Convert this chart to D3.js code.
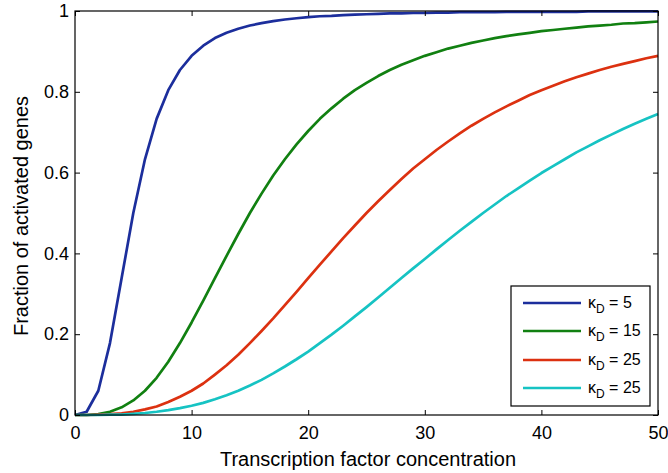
<!DOCTYPE html>
<html>
<head>
<meta charset="utf-8">
<script src="https://cdn.jsdelivr.net/npm/d3@7"></script>
<style>
  html, body { margin: 0; padding: 0; background: #fff; }
  svg { display: block; font-family: "Liberation Sans", Arial, sans-serif; }
</style>
</head>
<body>
<svg id="chart" width="668" height="473"></svg>
<script>
// Transcription factor concentration, sampled at integer steps
const concentration = d3.range(0, 51);

// Fraction of activated genes for each dissociation constant
const kd5 = [0, 0.008, 0.060, 0.178, 0.339, 0.500, 0.633, 0.733, 0.804, 0.854,
  0.889, 0.914, 0.933, 0.946, 0.956, 0.964, 0.970, 0.975, 0.979, 0.982,
  0.985, 0.987, 0.988, 0.990, 0.991, 0.992, 0.993, 0.994, 0.994, 0.995,
  0.995, 0.996, 0.996, 0.997, 0.997, 0.997, 0.997, 0.998, 0.998, 0.998,
  0.998, 0.998, 0.998, 0.998, 0.999, 0.999, 0.999, 0.999, 0.999, 0.999, 0.999];
const kd15 = [0, 0.000, 0.002, 0.008, 0.019, 0.036, 0.060, 0.092, 0.132, 0.178,
  0.229, 0.283, 0.339, 0.394, 0.448, 0.500, 0.548, 0.593, 0.633, 0.670,
  0.703, 0.733, 0.759, 0.783, 0.804, 0.822, 0.839, 0.854, 0.867, 0.878,
  0.889, 0.898, 0.907, 0.914, 0.921, 0.927, 0.933, 0.938, 0.942, 0.946,
  0.950, 0.953, 0.956, 0.959, 0.962, 0.964, 0.966, 0.969, 0.970, 0.972, 0.974];
const kd25 = [0, 0.000, 0.001, 0.002, 0.004, 0.008, 0.014, 0.021, 0.032, 0.045,
  0.060, 0.078, 0.100, 0.123, 0.149, 0.178, 0.208, 0.239, 0.272, 0.305,
  0.339, 0.372, 0.405, 0.438, 0.469, 0.500, 0.529, 0.557, 0.584, 0.610,
  0.633, 0.656, 0.677, 0.697, 0.716, 0.733, 0.749, 0.764, 0.778, 0.792,
  0.804, 0.815, 0.826, 0.836, 0.845, 0.854, 0.862, 0.869, 0.876, 0.883, 0.889];
const kd35 = [0, 0.000, 0.000, 0.001, 0.001, 0.003, 0.005, 0.008, 0.012, 0.017,
  0.023, 0.030, 0.039, 0.049, 0.060, 0.073, 0.087, 0.103, 0.120, 0.138,
  0.157, 0.178, 0.199, 0.221, 0.244, 0.267, 0.291, 0.315, 0.339, 0.363,
  0.386, 0.410, 0.433, 0.456, 0.478, 0.500, 0.521, 0.542, 0.561, 0.580,
  0.599, 0.616, 0.633, 0.650, 0.665, 0.680, 0.694, 0.708, 0.721, 0.733, 0.745];

const seriesValues = [kd5, kd15, kd25, kd35];
const legendLabels = ["5", "15", "25", "25"];
const seriesColors = ["#1c2e9c", "#118011", "#dc3110", "#16c3c3"];

const xTicks = [0, 10, 20, 30, 40, 50];
const yTicks = [0, 0.2, 0.4, 0.6, 0.8, 1];
const yTickLabels = ["0", "0.2", "0.4", "0.6", "0.8", "1"];

const svg = d3.select("#chart");
const plotLeft = 75, plotRight = 658, plotTop = 11, plotBottom = 415;

const x = d3.scaleLinear().domain([0, 50]).range([plotLeft, plotRight]);
const y = d3.scaleLinear().domain([0, 1]).range([plotBottom, plotTop]);

const tickFont = 18;
const titleFont = 20;

// Curves
const line = d3.line().x((d, i) => x(concentration[i])).y(d => y(d));
seriesValues.forEach((vals, k) => {
  svg.append("path")
    .datum(vals)
    .attr("d", line)
    .attr("fill", "none")
    .attr("stroke", seriesColors[k])
    .attr("stroke-width", 2.7)
    .attr("stroke-linejoin", "round");
});

// Axes with inward ticks on all four sides
const tickLen = 5;
const bottomAxis = d3.axisBottom(x).tickValues(xTicks).tickSizeInner(-tickLen).tickSizeOuter(0).tickPadding(11);
const topAxis = d3.axisTop(x).tickValues(xTicks).tickSizeInner(-tickLen).tickSizeOuter(0).tickFormat("");
const leftAxis = d3.axisLeft(y).tickValues(yTicks).tickSizeInner(-tickLen).tickSizeOuter(0).tickPadding(6)
  .tickFormat((d, i) => yTickLabels[i]);
const rightAxis = d3.axisRight(y).tickValues(yTicks).tickSizeInner(-tickLen).tickSizeOuter(0).tickFormat("");

function styleAxis(g) {
  g.select(".domain").remove();
  g.selectAll("line").attr("stroke", "#000").attr("stroke-width", 1);
  g.selectAll("text").attr("fill", "#000").style("font-size", tickFont + "px")
    .style("font-family", "'Liberation Sans', Arial, sans-serif");
}

svg.append("g").attr("transform", `translate(0,${plotBottom})`).call(bottomAxis).call(styleAxis);
svg.append("g").attr("transform", `translate(0,${plotTop})`).call(topAxis).call(styleAxis);
svg.append("g").attr("transform", `translate(${plotLeft},0)`).call(leftAxis).call(styleAxis);
svg.append("g").attr("transform", `translate(${plotRight},0)`).call(rightAxis).call(styleAxis);

// Plot frame
svg.append("rect")
  .attr("x", plotLeft).attr("y", plotTop)
  .attr("width", plotRight - plotLeft).attr("height", plotBottom - plotTop)
  .attr("fill", "none").attr("stroke", "#000").attr("stroke-width", 1.2);

// Axis titles
svg.append("text")
  .attr("x", 368).attr("y", 466)
  .attr("text-anchor", "middle")
  .style("font-size", titleFont + "px")
  .text("Transcription factor concentration");

svg.append("text")
  .attr("transform", `translate(28,216) rotate(-90)`)
  .attr("text-anchor", "middle")
  .style("font-size", titleFont + "px")
  .text("Fraction of activated genes");

// Legend
const legend = svg.append("g");
legend.append("rect")
  .attr("x", 511).attr("y", 286).attr("width", 139).attr("height", 120)
  .attr("fill", "#fff").attr("stroke", "#000").attr("stroke-width", 1.2);

const rowY = [303, 331, 360, 388];
legendLabels.forEach((lab, k) => {
  legend.append("line")
    .attr("x1", 523).attr("x2", 581)
    .attr("y1", rowY[k]).attr("y2", rowY[k])
    .attr("stroke", seriesColors[k]).attr("stroke-width", 2.7);
  const t = legend.append("text")
    .attr("x", 588).attr("y", rowY[k] + 5)
    .style("font-size", "16px");
  t.append("tspan").text("\u03BA");
  t.append("tspan").attr("dy", 5).style("font-size", "12px").text("D");
  t.append("tspan").attr("dy", -5).text(" = " + lab);
});
</script>
</body>
</html>
